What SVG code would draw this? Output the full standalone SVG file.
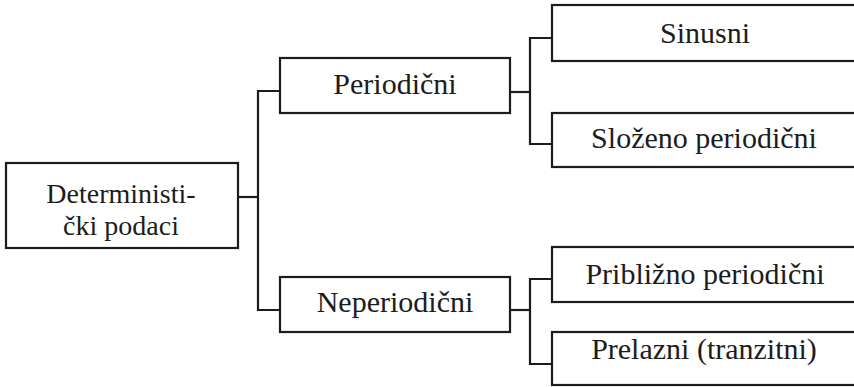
<svg xmlns="http://www.w3.org/2000/svg" width="854" height="387" viewBox="0 0 854 387">
<style>
rect{fill:#fff;stroke:#1c1c1c;stroke-width:2.2}
.c{fill:none;stroke:#1c1c1c;stroke-width:2.2}
text{font-family:"Liberation Serif","Times New Roman",serif;font-size:30px;fill:#1c1c1c;text-anchor:middle}
.s{font-size:28px}
</style>
<rect x="0" y="0" width="854" height="387" style="stroke:none"/>
<g id="connectors">
<path class="c" d="M238,197 H258"/>
<path class="c" d="M280,91 H258 V310 H280"/>
<path class="c" d="M510,92 H530"/>
<path class="c" d="M552,38 H530 V144 H552"/>
<path class="c" d="M510,310 H530"/>
<path class="c" d="M552,279 H530 V364 H552"/>
</g>
<g id="deterministicki">
<rect x="6" y="163" width="232" height="85"/>
<text class="s" x="121" y="203">Deterministi-</text>
<text class="s" x="121" y="235">čki podaci</text>
</g>
<g id="periodicni">
<rect x="280" y="58" width="230" height="55"/>
<text x="395" y="94">Periodični</text>
</g>
<g id="neperiodicni">
<rect x="280" y="277" width="230" height="55"/>
<text x="395" y="312">Neperiodični</text>
</g>
<g id="sinusni">
<rect x="552" y="5" width="310" height="56"/>
<text x="705" y="43">Sinusni</text>
</g>
<g id="slozeno">
<rect x="552" y="113" width="310" height="54"/>
<text x="704" y="148">Složeno periodični</text>
</g>
<g id="priblizno">
<rect x="552" y="247" width="310" height="55"/>
<text x="705" y="284">Približno periodični</text>
</g>
<g id="prelazni">
<rect x="552" y="332" width="310" height="53"/>
<text x="704" y="359">Prelazni (tranzitni)</text>
</g>
</svg>
